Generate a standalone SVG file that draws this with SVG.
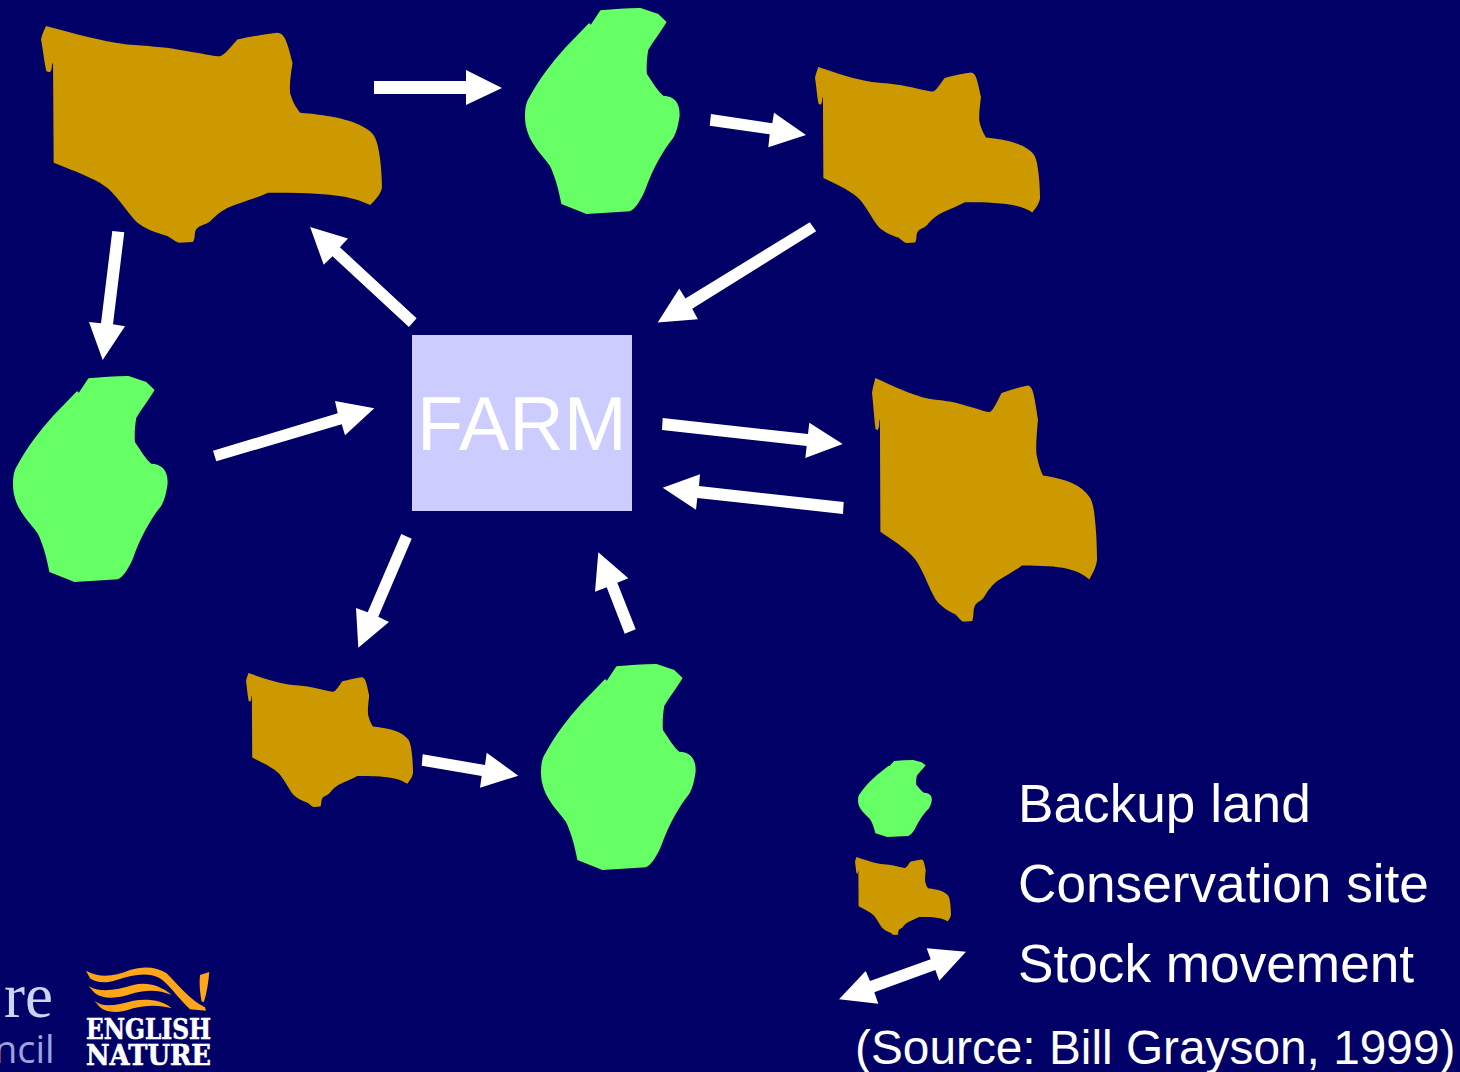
<svg xmlns="http://www.w3.org/2000/svg" xmlns:xlink="http://www.w3.org/1999/xlink" width="1460" height="1072" viewBox="0 0 1460 1072">
<style>
.brown{fill:#cc9900}
.green{fill:#66ff66}
.arrow{fill:#ffffff}
.t{font-family:"Liberation Sans",Arial,sans-serif;fill:#ffffff}
.legend{font-size:53.2px}
.logo{font-family:"DejaVu Serif","Liberation Serif",serif;font-weight:bold;fill:#ffffff;stroke:#ffffff;stroke-width:.6;font-size:28px}
.wave{fill:#ffa519}
</style>
<defs>
<path id="site" d="M47,20 C130,42 210,65 290,75 C350,80 400,82 440,90 C490,98 530,106 560,110 C575,112 585,100 620,60 C660,52 700,44 740,40 C760,42 768,60 785,130 C780,165 775,195 778,220 C785,245 795,262 808,278 C880,284 960,295 1005,325 C1025,338 1032,345 1040,375 C1050,420 1052,460 1053,500 C1050,520 1035,535 1018,553 C960,525 900,516 712,516 C670,535 620,548 590,562 C565,575 550,590 540,600 C525,612 505,612 497,625 C490,635 495,650 487,663 L445,665 C430,660 420,650 410,645 C375,635 345,625 320,605 C295,580 270,540 240,510 C210,480 140,455 70,427 L68,130 C62,132 68,150 58,158 L48,155 C42,130 38,90 32,60 C35,45 42,32 47,20 Z"/>
<path id="backup" d="M272,32 C310,28 350,26 392,25 L445,43 L470,67 C450,100 430,125 415,150 C410,180 410,200 411,222 C430,250 445,275 460,287 C490,288 510,305 509,345 C505,380 495,405 490,412 C460,450 430,500 405,570 C390,605 375,625 360,632 L230,640 L155,610 C145,560 135,525 120,495 C100,465 46,420 46,350 C46,320 50,305 60,290 C90,235 125,190 165,145 L238,70 L243,75 Z"/>
</defs>
<rect id="background" width="1460" height="1072" fill="#000066"/>
<g id="site-1"><use href="#site" class="brown" transform="translate(41,26) scale(.334,.336) translate(-32,-20)"/></g>
<g id="backup-1"><use href="#backup" class="green" transform="translate(525,8) scale(.334,.335) translate(-46,-25)"/></g>
<g id="site-2"><use href="#site" class="brown" transform="translate(815,67) scale(.2204,.2729) translate(-32,-20)"/></g>
<g id="backup-2"><use href="#backup" class="green" transform="translate(13,376) scale(.334,.335) translate(-46,-25)"/></g>
<g id="farm"><rect x="412" y="335" width="220" height="176" fill="#ccccff"/><text class="t" x="417" y="450" font-size="75.5">FARM</text></g>
<g id="site-3"><use href="#site" class="brown" transform="translate(872,378) scale(.2204,.378) translate(-32,-20)"/></g>
<g id="site-4"><use href="#site" class="brown" transform="translate(246,673) scale(.1636,.2078) translate(-32,-20)"/></g>
<g id="backup-3"><use href="#backup" class="green" transform="translate(541,664) scale(.334,.335) translate(-46,-25)"/></g>
<g id="connectors" class="arrow">
<polygon points="374,81 466,81 466,70 502,88 466,105 466,94 374,94"/>
<polygon points="711,114 772.3,123.3 774,112.7 806,135 768.3,147.3 769.7,134.3 709.7,125.7"/>
<polygon points="809.8,222.2 816.2,231.3 692.2,308.7 697.9,319.2 657.7,322.6 679.3,288.4 685.4,298.6"/>
<polygon points="310.1,226.9 348,238.4 339.9,247.2 416.6,318.2 408.9,327 332.5,256.3 323.7,264.8"/>
<polygon points="112.3,231 124.3,232.3 113,324.3 125,326.3 102.7,360 89,322 101,323.3"/>
<polygon points="213,450.7 337.7,413.3 335,401 374.3,408.3 345,435.3 341.7,424.3 216.3,461.3"/>
<polygon points="662.7,418 808,434 809.3,422.7 842.7,444 805.3,458 806.7,446 662,430"/>
<polygon points="662.7,487.7 700,474.3 699,486 843.7,502 843,514 697.3,498 696,509.7"/>
<polygon points="401.3,534 411.7,538.7 378.3,616.7 389,622 358.3,647.7 356,608 367.7,612.3"/>
<polygon points="624.7,633.7 635.7,629.3 617.3,582.7 628.3,578.3 598.3,552.3 595,591.7 606.7,587.3"/>
<polygon points="422.7,754.3 485,765 486.7,752.7 518.3,775.7 480,787.7 481.7,776 421.7,765.7"/>
</g>
<g id="legend-backup"><use href="#backup" class="green" transform="translate(858,760) scale(.1595,.125) translate(-46,-25)"/><text class="t legend" x="1018" y="822">Backup land</text></g>
<g id="legend-site"><use href="#site" class="brown" transform="translate(855,857) scale(.094,.121) translate(-32,-20)"/><text class="t legend" x="1018" y="902">Conservation site</text></g>
<g id="legend-movement"><polygon class="arrow" points="839,999.3 865.7,971 870,981 930.7,959.3 926.7,948.3 966,951.7 939.3,980.7 935.3,970 874.3,992.3 878.3,1003.7"/><text class="t legend" x="1018" y="982">Stock movement</text></g>
<text id="source" class="t" x="855" y="1064" font-size="47.8">(Source: Bill Grayson, 1999)</text>
<g id="council-logo">
<text x="4" y="1017" font-family="Liberation Serif,serif" font-size="63" fill="#ccd4f2">re</text>
<text x="-6" y="1063" font-family="Open Sans,sans-serif" font-size="38" fill="#9aa4dc">ncil</text>
</g>
<g id="english-nature-logo">
<g transform="translate(0,950) scale(.3333)">
<path class="wave" d="M258,62 C300,85 340,80 390,60 C430,48 470,50 500,70 C540,110 570,150 615,172 L618,182 L570,178 C530,140 510,105 480,85 C440,65 400,75 350,90 C320,100 290,100 270,85 Z"/>
<path class="wave" d="M265,108 C300,130 350,120 400,105 C440,95 480,105 515,135 C480,120 440,118 400,130 C360,145 310,150 285,130 Z"/>
<path class="wave" d="M283,152 C310,175 350,165 400,152 C440,145 490,150 515,175 C480,165 440,165 400,175 C360,190 320,190 300,172 Z"/>
<path class="wave" d="M600,75 L628,66 C625,100 620,130 612,155 L605,155 C600,130 597,100 600,75 Z"/>
</g>
<text class="logo" x="86" y="1039" textLength="125" lengthAdjust="spacingAndGlyphs">ENGLISH</text>
<text class="logo" x="86" y="1065" textLength="125" lengthAdjust="spacingAndGlyphs">NATURE</text>
</g>
</svg>
